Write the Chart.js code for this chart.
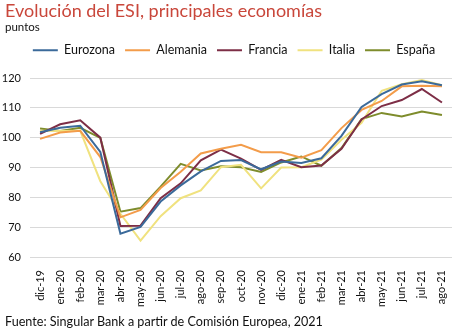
<!DOCTYPE html>
<html>
<head>
<meta charset="utf-8">
<script src="https://cdn.jsdelivr.net/npm/chart.js"></script>
<style>
  body { margin: 0; background: #fff; font-family: Lato, sans-serif; }
  #page { position: relative; width: 465px; height: 335px; overflow: hidden; }
  #chartBox { position: absolute; left: 0; top: 0; width: 465px; height: 335px; }
  .txt { position: absolute; left: 5px; white-space: nowrap; z-index: 2; }
  #title { top: -1px; font-size: 18px; color: #C9473B; }
  #sub { top: 20px; font-size: 11.5px; color: #111; }
  #source { top: 314px; font-size: 12.6px; color: #111; }
</style>
</head>
<body>
<div id="page">
  <div id="title" class="txt">Evolución del ESI, principales economías</div>
  <div id="sub" class="txt">puntos</div>
  <div id="chartBox"><canvas id="esiChart"></canvas></div>
  <div id="source" class="txt">Fuente: Singular Bank a partir de Comisión Europea, 2021</div>
</div>
<script>
const months = ['dic-19', 'ene-20', 'feb-20', 'mar-20', 'abr-20', 'may-20', 'jun-20', 'jul-20',
  'ago-20', 'sep-20', 'oct-20', 'nov-20', 'dic-20', 'ene-21', 'feb-21', 'mar-21', 'abr-21',
  'may-21', 'jun-21', 'jul-21', 'ago-21'];

const eurozona = [101.8, 103.3, 104.0, 95.2, 67.8, 70.1, 78.6, 84.0, 88.7, 92.2, 92.5, 89.4, 92.0, 91.5, 93.1, 100.6, 110.3, 114.6, 117.8, 118.9, 117.6];
const alemania = [99.6, 101.7, 102.3, 93.5, 73.3, 75.8, 83.1, 88.6, 94.7, 96.3, 97.6, 95.1, 95.1, 93.3, 95.8, 103.2, 109.3, 112.3, 117.2, 117.4, 117.2];
const francia = [101.3, 104.5, 105.8, 100.0, 70.4, 70.5, 79.7, 84.7, 92.4, 96.0, 93.0, 89.2, 92.6, 90.1, 90.7, 96.3, 106.1, 110.6, 112.6, 116.3, 111.8];
const italia = [102.3, 102.2, 102.3, 85.4, 74.5, 65.5, 73.7, 79.7, 82.3, 90.1, 90.9, 83.0, 90.0, 90.1, 92.6, 99.3, 105.0, 115.7, 117.9, 119.3, 117.6];
const espana = [103.1, 102.2, 103.3, 99.9, 75.2, 76.4, 83.6, 91.2, 89.0, 90.4, 90.1, 88.5, 91.7, 93.7, 90.6, 96.5, 106.2, 108.3, 107.1, 108.8, 107.6];

const yTicks = [60, 70, 80, 90, 100, 110, 120];

function serie(label, data, color) {
  return {
    label: label,
    data: data,
    borderColor: color,
    backgroundColor: color,
    borderWidth: 2,
    pointRadius: 0,
    tension: 0
  };
}

// fixed legend row height, and nudge the row a bit to the right
const legendPlace = {
  id: 'legendPlace',
  beforeInit(chart) {
    const fit = chart.legend.fit;
    chart.legend.fit = function () {
      fit.call(this);
      this.height = 44;
    };
  },
  afterUpdate(chart) {
    chart.legend.left += 8;
    chart.legend.right += 8;
  }
};

const ctx = document.getElementById('esiChart').getContext('2d');
new Chart(ctx, {
  type: 'line',
  data: {
    labels: months,
    datasets: [
      serie('Eurozona', eurozona, '#3B6A9A'),
      serie('Alemania', alemania, '#F39C4A'),
      serie('Francia', francia, '#7D2E46'),
      serie('Italia', italia, '#F0E27F'),
      serie('España', espana, '#7E8C2C')
    ]
  },
  options: {
    responsive: true,
    maintainAspectRatio: false,
    animation: false,
    layout: { padding: { top: 34, right: 13, bottom: 22, left: 0 } },
    plugins: {
      title: { display: false },
      tooltip: { enabled: false },
      legend: {
        position: 'top',
        align: 'center',
        labels: {
          boxWidth: 25,
          boxHeight: 2,
          padding: 10,
          color: '#111',
          font: { family: 'Lato', size: 12.5 },
          generateLabels(chart) {
            return Chart.defaults.plugins.legend.labels.generateLabels(chart).map(item => {
              item.lineWidth = 0;
              item.fillStyle = item.strokeStyle;
              return item;
            });
          }
        }
      }
    },
    scales: {
      x: {
        offset: true,
        grid: { display: false },
        border: { display: false },
        afterFit(scale) { scale.height = 56; },
        ticks: {
          autoSkip: false,
          minRotation: 90,
          maxRotation: 90,
          padding: 5,
          color: '#111',
          font: { family: 'Lato', size: 11 }
        }
      },
      y: {
        min: 60,
        max: 120,
        afterFit(scale) { scale.width = 30; },
        afterBuildTicks(scale) { scale.ticks = yTicks.map(v => ({ value: v })); },
        grid: { color: '#D9D9D9', lineWidth: 1, drawTicks: false },
        border: { display: false },
        ticks: {
          padding: 9,
          color: '#111',
          font: { family: 'Lato', size: 11 }
        }
      }
    }
  },
  plugins: [legendPlace]
});
</script>
</body>
</html>
